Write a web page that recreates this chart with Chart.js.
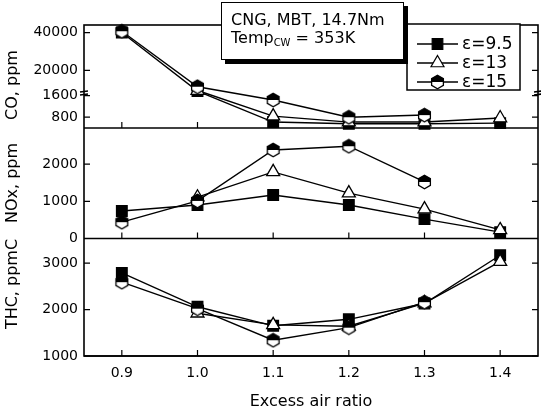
<!DOCTYPE html>
<html>
<head>
<meta charset="utf-8">
<script src="https://cdn.jsdelivr.net/npm/chart.js@4/dist/chart.umd.min.js"></script>
<style>
  html, body { margin: 0; padding: 0; background: #fff; }
  #wrap { position: relative; width: 541px; height: 411px; }
  #note {
    position: absolute; left: 221px; top: 2px; width: 183px; height: 58px;
    box-sizing: border-box; border: 1.5px solid #000; background: #fff;
    box-shadow: 4px 4px 0 #000;
    font: 16px "DejaVu Sans", sans-serif; line-height: 18px; color: #000;
    padding: 8px 0 0 9px;
  }
  #note sub { font-size: 10px; line-height: 0; vertical-align: -3px; }
</style>
</head>
<body>
<div id="wrap">
  <canvas id="chart" width="541" height="411"></canvas>
  <div id="note">CNG, MBT, 14.7Nm<br>Temp<sub>CW</sub> = 353K</div>
</div>
<script>
// excess air ratio (x)
const ratio = [0.9, 1.0, 1.1, 1.2, 1.3, 1.4];
const seriesNames = ["ε=9.5", "ε=13", "ε=15"];

// CO, ppm
const co95 = [40000, 9000, 620, 560, 560, 580];
const co13 = [null, 9300, 840, 620, 620, 770];
const co15 = [40700, 11300, 1440, 800, 880, null];

// NOx, ppm
const nox95 = [740, 900, 1170, 900, 520, 170];
const nox13 = [null, 1110, 1790, 1220, 790, 230];
const nox15 = [440, 1010, 2380, 2480, 1520, null];

// THC, ppmC
const thc95 = [2790, 2060, 1650, 1790, 2130, 3170];
const thc13 = [null, 1920, 1670, 1640, 2140, 3030];
const thc15 = [2590, 2020, 1340, 1610, 2160, null];

// tick values
const coTicks = [800, 1600, 20000, 40000];
const noxTicks = [0, 500, 1000, 1500, 2000, 2500];
const thcTicks = [1000, 1500, 2000, 2500, 3000];

// broken CO axis: low part 400..1700, high part 8000..44000
const coBreak = { lowMin: 400, lowMax: 1700, highMin: 8000, highMax: 44000, split: 0.34 };

class BrokenScale extends Chart.LinearScale {
  toFrac(v) {
    const b = coBreak;
    if (v <= b.lowMax) return (v - b.lowMin) / (b.lowMax - b.lowMin) * b.split;
    if (v < b.highMin) return b.split;
    return b.split + (v - b.highMin) / (b.highMax - b.highMin) * (1 - b.split);
  }
  getPixelForValue(v) {
    return this.getPixelForDecimal(this.toFrac(v));
  }
  getValueForPixel(p) {
    const b = coBreak, d = this.getDecimalForPixel(p);
    if (d <= b.split) return b.lowMin + d / b.split * (b.lowMax - b.lowMin);
    return b.highMin + (d - b.split) / (1 - b.split) * (b.highMax - b.highMin);
  }
}
BrokenScale.id = "broken";
BrokenScale.defaults = Chart.LinearScale.defaults;
Chart.register(BrokenScale);

Chart.defaults.font.family = '"DejaVu Sans", sans-serif';
Chart.defaults.color = "#000";

function hexMarker() {
  const c = document.createElement("canvas");
  c.width = 15; c.height = 16;
  const g = c.getContext("2d");
  const cx = 7.5, cy = 8, r = 6.8;
  g.beginPath();
  for (let k = 0; k < 6; k++) {
    const a = -Math.PI / 2 + k * Math.PI / 3;
    g.lineTo(cx + r * Math.cos(a), cy + r * Math.sin(a));
  }
  g.closePath();
  g.fillStyle = "#fff";
  g.fill();
  g.save();
  g.clip();
  g.fillStyle = "#000";
  g.fillRect(0, 0, 15, cy);
  g.restore();
  g.lineWidth = 1.3;
  g.strokeStyle = "#000";
  g.stroke();
  return c;
}
const hex = hexMarker();

const markers = [
  { pointStyle: "rect", radius: 7.5, fill: "#000" },
  { pointStyle: "triangle", radius: 7.5, fill: "#fff" },
  { pointStyle: hex, radius: 7, fill: "#fff" },
];

function pts(vals) {
  return ratio.map((x, i) => ({ x: x, y: vals[i] })).filter(p => p.y !== null);
}

function ds(vals, s, axis) {
  const m = markers[s];
  return {
    label: seriesNames[s],
    data: pts(vals),
    yAxisID: axis,
    borderColor: "#000",
    borderWidth: 1.4,
    pointStyle: m.pointStyle,
    pointRadius: m.radius,
    pointHoverRadius: m.radius,
    pointBackgroundColor: m.fill,
    pointBorderColor: "#000",
    pointBorderWidth: 1.3,
    tension: 0,
    fill: false,
    clip: false,
  };
}

function yAxis(extra) {
  return Object.assign({
    position: "left",
    stack: "panels",
    grid: { display: false, drawTicks: false },
    border: { display: false },
    ticks: {
      padding: 6,
      font: { size: 14 },
      callback: v => (v % 1000 === 0 ? String(v) : ""),
    },
    afterFit: s => { s.width = 84; },
  }, extra);
}

// y titles sit a bit off-centre in the original, so they are drawn by hand
const yTitles = [
  { text: "CO, ppm", y: 85 },
  { text: "NOx, ppm", y: 183 },
  { text: "THC, ppmC", y: 284 },
];

// frame, inward ticks, break mark, titles and legend
const framePlugin = {
  id: "frame",
  beforeDatasetsDraw(chart) {
    const ctx = chart.ctx, a = chart.chartArea;
    ctx.save();
    ctx.strokeStyle = "#000";
    ctx.lineWidth = 1.6;
    ctx.strokeRect(a.left, a.top, a.right - a.left, a.bottom - a.top);
    ["yCO", "yNOx", "yTHC"].forEach(id => {
      const s = chart.scales[id];
      ctx.lineWidth = 1.6;
      ctx.beginPath();
      ctx.moveTo(a.left, s.bottom);
      ctx.lineTo(a.right, s.bottom);
      ctx.stroke();
      ctx.lineWidth = 1.2;
      ctx.beginPath();
      s.ticks.forEach(t => {
        const y = s.getPixelForValue(t.value);
        const len = t.label !== "" ? 6 : 3.5;
        ctx.moveTo(a.left, y); ctx.lineTo(a.left + len, y);
        ctx.moveTo(a.right, y); ctx.lineTo(a.right - len, y);
      });
      chart.scales.x.ticks.forEach(t => {
        const x = chart.scales.x.getPixelForValue(t.value);
        ctx.moveTo(x, s.bottom); ctx.lineTo(x, s.bottom - 6);
      });
      ctx.stroke();
    });
    const co = chart.scales.yCO;
    const yb = co.getPixelForDecimal(coBreak.split);
    ctx.lineWidth = 1.6;
    ctx.beginPath();
    [a.left, a.right].forEach(x => {
      ctx.moveTo(x - 4, yb - 1); ctx.lineTo(x + 4, yb - 2);
      ctx.moveTo(x - 4, yb + 2); ctx.lineTo(x + 4, yb + 1);
    });
    ctx.stroke();

    ctx.fillStyle = "#000";
    ctx.font = '16px "DejaVu Sans", sans-serif';
    ctx.textAlign = "center";
    ctx.textBaseline = "middle";
    yTitles.forEach(t => {
      ctx.save();
      ctx.translate(13, t.y);
      ctx.rotate(-Math.PI / 2);
      ctx.fillText(t.text, 0, 0);
      ctx.restore();
    });
    ctx.restore();
  },
  afterDraw(chart) {
    const ctx = chart.ctx;
    const bx = 407, by = 24, bw = 113, bh = 66;
    const rows = [44, 63, 82];
    ctx.save();
    ctx.fillStyle = "#fff";
    ctx.fillRect(bx, by, bw, bh);
    ctx.strokeStyle = "#000";
    ctx.lineWidth = 1.5;
    ctx.strokeRect(bx, by, bw, bh);
    seriesNames.forEach((name, s) => {
      const y = rows[s], m = markers[s];
      ctx.lineWidth = 1.3;
      ctx.strokeStyle = "#000";
      ctx.beginPath();
      ctx.moveTo(417, y); ctx.lineTo(458, y);
      ctx.stroke();
      ctx.fillStyle = m.fill;
      ctx.lineWidth = 1.2;
      Chart.helpers.drawPoint(ctx, { pointStyle: m.pointStyle, radius: m.radius, rotation: 0, borderWidth: 1.2 }, 437.5, y);
      ctx.fillStyle = "#000";
      ctx.font = '17px "DejaVu Sans", sans-serif';
      ctx.textBaseline = "middle";
      ctx.textAlign = "left";
      ctx.fillText(name, 462, y + 1);
    });
    ctx.restore();
  },
};

new Chart(document.getElementById("chart"), {
  type: "line",
  data: {
    datasets: [
      ds(co15, 2, "yCO"), ds(co13, 1, "yCO"), ds(co95, 0, "yCO"),
      ds(nox15, 2, "yNOx"), ds(nox13, 1, "yNOx"), ds(nox95, 0, "yNOx"),
      ds(thc15, 2, "yTHC"), ds(thc13, 1, "yTHC"), ds(thc95, 0, "yTHC"),
    ],
  },
  options: {
    responsive: false,
    animation: false,
    devicePixelRatio: 1,
    layout: { autoPadding: false, padding: { top: 25, right: 3, left: 0, bottom: 0 } },
    plugins: { legend: { display: false }, tooltip: { enabled: false } },
    scales: {
      x: {
        type: "linear",
        min: 0.85,
        max: 1.45,
        afterBuildTicks: s => { s.ticks = ratio.map(v => ({ value: v })); },
        grid: { display: false, drawTicks: false },
        border: { display: false },
        ticks: { padding: 9, font: { size: 14 }, callback: v => v.toFixed(1) },
        title: { display: true, text: "Excess air ratio", font: { size: 16 }, padding: { top: 0, bottom: 0 } },
        afterFit: s => { s.height = 55; s.paddingLeft = 0; s.paddingRight = 0; },
      },
      yTHC: yAxis({
        type: "linear", min: 1000, max: 3530, stackWeight: 117.5, weight: 1,
        afterBuildTicks: s => { s.ticks = thcTicks.map(v => ({ value: v })); },
      }),
      yNOx: yAxis({
        type: "linear", min: 0, max: 2970, stackWeight: 110.5, weight: 2,
        afterBuildTicks: s => { s.ticks = noxTicks.map(v => ({ value: v })); },
      }),
      yCO: yAxis({
        type: "broken", min: coBreak.lowMin, max: coBreak.highMax, stackWeight: 103, weight: 3,
        afterBuildTicks: s => { s.ticks = coTicks.map(v => ({ value: v })); },
        ticks: { padding: 6, font: { size: 14 }, callback: v => String(v) },
      }),
    },
  },
  plugins: [framePlugin],
});
</script>
</body>
</html>
